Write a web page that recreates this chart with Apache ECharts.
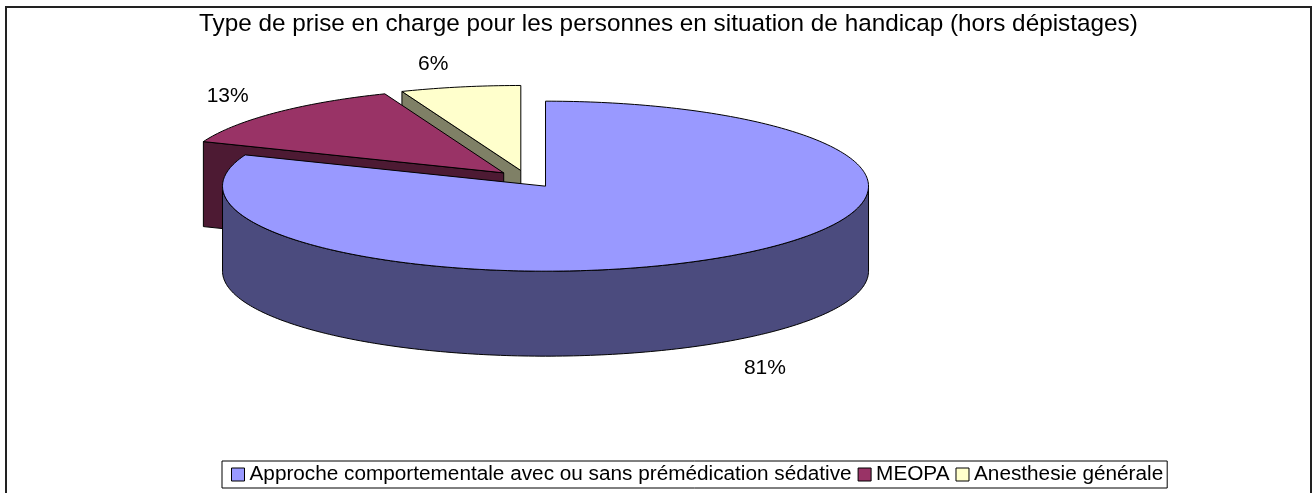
<!DOCTYPE html>
<html><head><meta charset="utf-8">
<script src="https://cdn.jsdelivr.net/npm/echarts@6/dist/echarts.min.js"></script>
<style>html,body{margin:0;padding:0;background:#fff}#c{width:1312px;height:493px}</style>
</head><body><div id="c"></div>
<script>
const titleText = "Type de prise en charge pour les personnes en situation de handicap (hors dépistages)";
const categories = ["Approche comportementale avec ou sans prémédication sédative", "MEOPA", "Anesthesie générale"];
const values = [81, 13, 6];

const topColors = ["#9999FF", "#993366", "#FFFFCC"];
const sideColors = ["#4B4B7E", "#4D1A33", "#7F8066"];
const FONT = '"Liberation Sans", Arial, sans-serif';
const L = {cx: 527, cy: 179, rx: 323, ry: 85, depth: 85, explode: 0.102, labelR: 1.25, labelSize: 21, frontLabelDrop: 8};

const total = values.reduce((s, v) => s + v, 0);
const starts = [];
(function () { let acc = 0; values.forEach(v => { starts.push(acc / total * 360); acc += v; }); })();
const rad = d => d * Math.PI / 180;
function pt(ox, oy, th, dy) { return [ox + L.rx * Math.sin(rad(th)), oy - L.ry * Math.cos(rad(th)) + (dy || 0)]; }
function arc(ox, oy, a, b, dy) {
  const pts = []; const n = Math.max(2, Math.ceil(Math.abs(b - a)));
  for (let k = 0; k <= n; k++) pts.push(pt(ox, oy, a + (b - a) * k / n, dy));
  return pts;
}

function makeRender(i) {
  return function (params, api) {
    const v = api.value(0);
    const a = starts[i], b = a + v / total * 360;
    const mid = (a + b) / 2;
    const sm = Math.sin(rad(mid)), cm = Math.cos(rad(mid));
    const ox = L.cx + L.explode * L.rx * sm;
    const oy = L.cy - L.explode * L.ry * cm;
    const st = fill => ({fill: fill, stroke: '#000', lineWidth: 1, lineJoin: 'round'});
    const children = [];
    const face = th => ({type: 'polygon', shape: {points: [[ox, oy], pt(ox, oy, th), pt(ox, oy, th, L.depth), [ox, oy + L.depth]]}, style: st(sideColors[i])});
    if (Math.sin(rad(a)) < -1e-6) children.push(face(a));
    if (Math.sin(rad(b)) > 1e-6) children.push(face(b));
    const w1 = Math.max(a, 90), w2 = Math.min(b, 270);
    if (w2 > w1) {
      children.push({type: 'polygon', shape: {points: arc(ox, oy, w1, w2, 0).concat(arc(ox, oy, w2, w1, L.depth))}, style: st(sideColors[i])});
    }
    children.push({type: 'polygon', shape: {points: [[ox, oy]].concat(arc(ox, oy, a, b, 0))}, style: st(topColors[i])});
    const txt = Math.round(v / total * 100) + '%';
    const tw = txt.length * 0.62 * L.labelSize, th = L.labelSize;
    // labels near the top are pushed sideways away from the neighbouring slice edge
    const side = Math.abs(sm) < 0.3 ? -tw * 0.6 : 0;
    const lx = L.cx + L.rx * L.labelR * sm + sm * tw / 2 + side;
    const ly = L.cy - L.ry * L.labelR * cm + (cm < 0 ? L.depth + L.frontLabelDrop : 0) - cm * th / 2;
    children.push({type: 'text', x: lx, y: ly, style: {text: txt, fill: '#000', fontSize: L.labelSize, fontFamily: FONT, align: 'center', verticalAlign: 'middle'}});
    return {type: 'group', children: children};
  };
}

const series = categories.map((name, i) => {
  const mid = starts[i] + values[i] / total * 180;
  return {
    type: 'custom', name: name, coordinateSystem: 'none',
    z: 10 + Math.round(-Math.cos(rad(mid)) * 5),
    itemStyle: {color: topColors[i], borderColor: '#000', borderWidth: 1},
    data: [[values[i]]],
    renderItem: makeRender(i),
    animation: false, silent: true
  };
});

const chart = echarts.init(document.getElementById('c'));
chart.setOption({
  backgroundColor: '#fff',
  animation: false,
  title: {text: titleText, left: 199, top: 12, padding: 0,
    textStyle: {fontSize: 24.3, fontWeight: 'normal', color: '#000', fontFamily: FONT}},
  legend: {
    left: 222, top: 461, orient: 'horizontal', borderColor: '#000', borderWidth: 1,
    padding: [3, 4, 3, 9], itemGap: 6, itemWidth: 13, itemHeight: 13, icon: 'rect',
    textStyle: {fontSize: 20.75, color: '#000', fontFamily: FONT},
    data: categories.map((c, i) => ({name: c, itemStyle: {color: topColors[i], borderColor: '#000', borderWidth: 1}}))
  },
  graphic: [{type: 'rect', shape: {x: 6, y: 7, width: 1305, height: 500}, style: {fill: 'none', stroke: '#222', lineWidth: 2}, silent: true, z: 100}],
  series: series
});
</script></body></html>
